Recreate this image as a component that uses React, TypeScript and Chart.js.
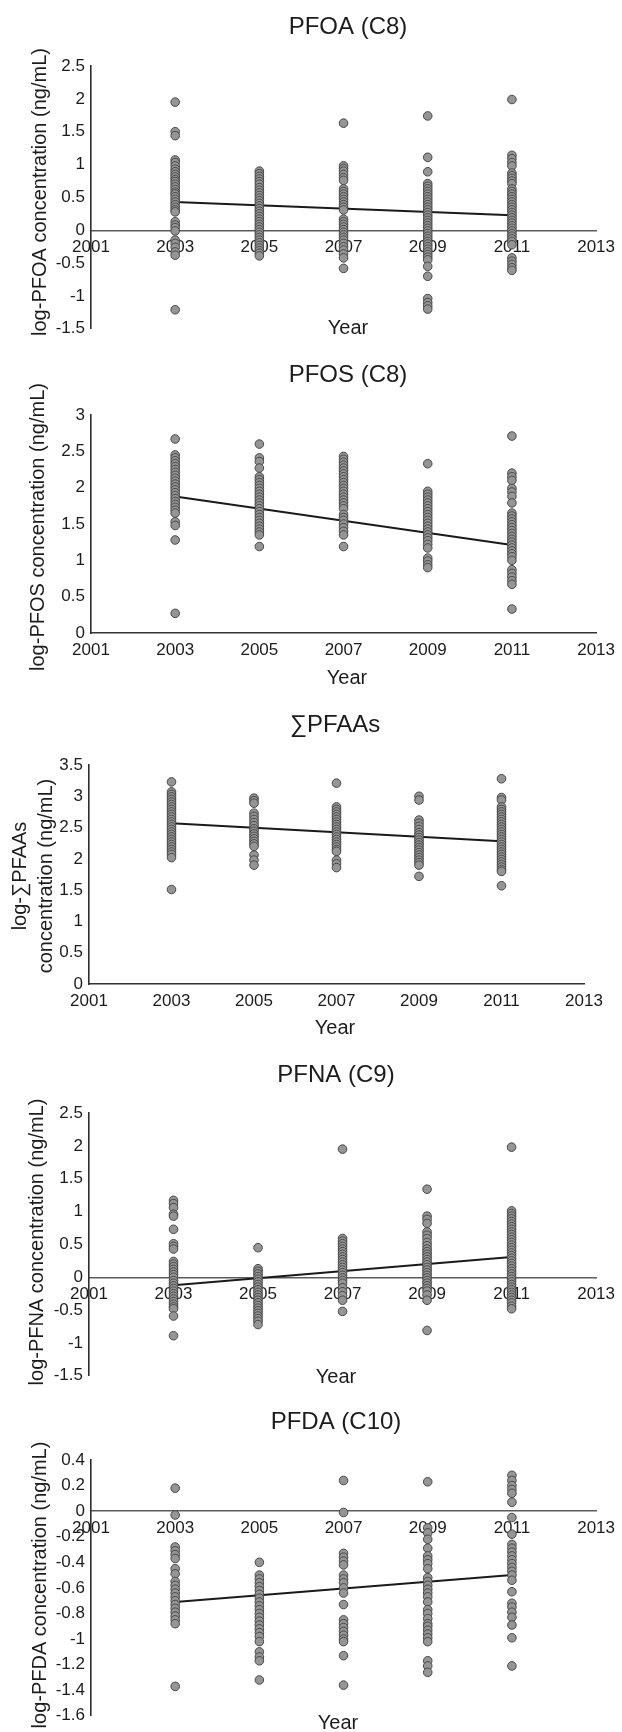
import React, { useEffect, useRef } from 'react';
import { Chart, registerables } from 'chart.js';

Chart.register(...registerables);

const FONT = "'Liberation Sans', Arial, Helvetica, sans-serif";

// ---------- shared axes ----------
const years = [2003, 2005, 2007, 2009, 2011];
const xTickYears = [2001, 2003, 2005, 2007, 2009, 2011, 2013];
const trendYears = [2003, 2011];

// ---------- PFOA (C8) ----------
const pfoa2003 = [1.95, 1.5, 1.44, 1.07, 1.03, 0.98, 0.93, 0.89, 0.85, 0.81, 0.77, 0.74, 0.7, 0.66, 0.62, 0.58, 0.55, 0.51, 0.47, 0.43, 0.39, 0.35, 0.31, 0.28, 0.13, 0.08, 0.04, -0.01, -0.15, -0.2, -0.26, -0.33, -0.38, -1.21];
const pfoa2005 = [0.9, 0.86, 0.82, 0.78, 0.74, 0.7, 0.65, 0.61, 0.57, 0.53, 0.49, 0.45, 0.41, 0.37, 0.33, 0.29, 0.25, 0.21, 0.17, 0.13, 0.09, 0.05, 0.01, -0.03, -0.07, -0.11, -0.15, -0.19, -0.23, -0.27, -0.31, -0.35, -0.39];
const pfoa2007 = [1.63, 0.98, 0.94, 0.9, 0.85, 0.8, 0.76, 0.63, 0.59, 0.55, 0.51, 0.47, 0.43, 0.39, 0.35, 0.31, 0.17, 0.13, 0.09, 0.05, 0.01, -0.03, -0.07, -0.11, -0.15, -0.2, -0.25, -0.3, -0.36, -0.42, -0.58];
const pfoa2009 = [1.74, 1.11, 0.89, 0.71, 0.67, 0.63, 0.59, 0.55, 0.51, 0.47, 0.43, 0.39, 0.35, 0.31, 0.27, 0.23, 0.19, 0.15, 0.11, 0.07, 0.03, -0.01, -0.05, -0.09, -0.13, -0.17, -0.21, -0.25, -0.29, -0.33, -0.37, -0.41, -0.45, -0.55, -0.7, -1.04, -1.1, -1.15, -1.2];
const pfoa2011 = [1.99, 1.14, 1.09, 1.03, 0.98, 0.87, 0.83, 0.79, 0.75, 0.71, 0.63, 0.59, 0.55, 0.51, 0.47, 0.43, 0.39, 0.35, 0.31, 0.27, 0.23, 0.19, 0.15, 0.11, 0.07, 0.03, -0.01, -0.05, -0.09, -0.13, -0.17, -0.22, -0.42, -0.47, -0.52, -0.57, -0.61];
const pfoaTrend = [0.43, 0.23];
const pfoaYTicks = [-1.5, -1, -0.5, 0, 0.5, 1, 1.5, 2, 2.5];

// ---------- PFOS (C8) ----------
const pfos2003 = [2.67, 2.45, 2.41, 2.37, 2.33, 2.29, 2.25, 2.21, 2.17, 2.13, 2.09, 2.05, 2.01, 1.97, 1.93, 1.89, 1.85, 1.81, 1.77, 1.73, 1.69, 1.65, 1.53, 1.48, 1.28, 0.27];
const pfos2005 = [2.6, 2.41, 2.36, 2.27, 2.15, 2.11, 2.07, 2.03, 1.99, 1.95, 1.91, 1.87, 1.83, 1.79, 1.75, 1.71, 1.67, 1.63, 1.59, 1.55, 1.51, 1.47, 1.43, 1.39, 1.35, 1.19];
const pfos2007 = [2.43, 2.39, 2.35, 2.31, 2.27, 2.23, 2.19, 2.15, 2.11, 2.07, 2.03, 1.99, 1.95, 1.91, 1.87, 1.83, 1.79, 1.75, 1.71, 1.63, 1.59, 1.55, 1.5, 1.45, 1.4, 1.35, 1.19];
const pfos2009 = [2.33, 1.95, 1.91, 1.87, 1.83, 1.79, 1.75, 1.71, 1.67, 1.63, 1.59, 1.55, 1.51, 1.47, 1.43, 1.39, 1.35, 1.31, 1.27, 1.22, 1.17, 1.03, 0.99, 0.94, 0.9];
const pfos2011 = [2.71, 2.2, 2.15, 2.1, 1.99, 1.94, 1.88, 1.79, 1.65, 1.61, 1.57, 1.53, 1.49, 1.45, 1.41, 1.37, 1.33, 1.29, 1.25, 1.21, 1.17, 1.13, 1.09, 1.05, 1.0, 0.87, 0.82, 0.77, 0.72, 0.67, 0.33];
const pfosTrend = [1.88, 1.21];
const pfosYTicks = [0, 0.5, 1, 1.5, 2, 2.5, 3];

// ---------- ∑PFAAs ----------
const pfaa2003 = [3.23, 3.07, 3.03, 2.99, 2.95, 2.91, 2.87, 2.83, 2.79, 2.75, 2.71, 2.67, 2.63, 2.59, 2.55, 2.51, 2.47, 2.43, 2.39, 2.35, 2.31, 2.27, 2.23, 2.19, 2.15, 2.11, 2.07, 2.02, 1.51];
const pfaa2005 = [2.97, 2.93, 2.89, 2.73, 2.68, 2.63, 2.58, 2.53, 2.48, 2.44, 2.4, 2.36, 2.32, 2.28, 2.24, 2.2, 2.06, 1.98, 1.9];
const pfaa2007 = [3.21, 2.83, 2.79, 2.75, 2.71, 2.67, 2.63, 2.59, 2.55, 2.51, 2.47, 2.43, 2.39, 2.35, 2.31, 2.27, 2.23, 2.19, 2.15, 2.12, 1.98, 1.92, 1.86];
const pfaa2009 = [3.0, 2.94, 2.62, 2.57, 2.52, 2.47, 2.42, 2.38, 2.34, 2.3, 2.26, 2.22, 2.18, 2.14, 2.1, 2.06, 2.02, 1.98, 1.94, 1.9, 1.72];
const pfaa2011 = [3.28, 2.98, 2.94, 2.83, 2.79, 2.75, 2.71, 2.67, 2.63, 2.59, 2.55, 2.51, 2.47, 2.43, 2.39, 2.35, 2.31, 2.27, 2.23, 2.19, 2.15, 2.11, 2.07, 2.03, 1.99, 1.95, 1.91, 1.87, 1.83, 1.8, 1.57];
const pfaaTrend = [2.57, 2.28];
const pfaaYTicks = [0, 0.5, 1, 1.5, 2, 2.5, 3, 3.5];

// ---------- PFNA (C9) ----------
const pfna2003 = [1.17, 1.12, 1.06, 0.96, 0.93, 0.73, 0.51, 0.47, 0.43, 0.24, 0.2, 0.16, 0.12, 0.08, 0.04, 0.0, -0.05, -0.09, -0.13, -0.17, -0.21, -0.25, -0.29, -0.33, -0.37, -0.41, -0.45, -0.48, -0.59, -0.89];
const pfna2005 = [0.45, 0.13, 0.09, 0.05, 0.01, -0.03, -0.07, -0.11, -0.15, -0.19, -0.23, -0.27, -0.31, -0.35, -0.39, -0.43, -0.47, -0.51, -0.55, -0.59, -0.63, -0.67, -0.72];
const pfna2007 = [1.95, 0.59, 0.55, 0.51, 0.47, 0.43, 0.39, 0.35, 0.31, 0.27, 0.23, 0.19, 0.15, 0.11, 0.07, 0.03, -0.01, -0.05, -0.09, -0.16, -0.22, -0.28, -0.35, -0.52];
const pfna2009 = [1.34, 0.93, 0.88, 0.82, 0.69, 0.64, 0.59, 0.53, 0.48, 0.43, 0.39, 0.35, 0.31, 0.27, 0.23, 0.19, 0.15, 0.11, 0.07, 0.03, -0.01, -0.05, -0.09, -0.13, -0.17, -0.21, -0.27, -0.35, -0.81];
const pfna2011 = [1.98, 1.01, 0.97, 0.93, 0.89, 0.85, 0.81, 0.77, 0.73, 0.69, 0.65, 0.61, 0.57, 0.53, 0.49, 0.45, 0.41, 0.37, 0.33, 0.29, 0.25, 0.21, 0.17, 0.13, 0.09, 0.05, 0.01, -0.03, -0.07, -0.11, -0.15, -0.19, -0.23, -0.27, -0.31, -0.35, -0.39, -0.44, -0.48];
const pfnaTrend = [-0.12, 0.31];
const pfnaYTicks = [-1.5, -1, -0.5, 0, 0.5, 1, 1.5, 2, 2.5];

// ---------- PFDA (C10) ----------
const pfda2003 = [0.18, -0.03, -0.28, -0.31, -0.34, -0.37, -0.45, -0.49, -0.55, -0.58, -0.61, -0.64, -0.67, -0.7, -0.73, -0.76, -0.79, -0.82, -0.85, -0.88, -1.37];
const pfda2005 = [-0.4, -0.5, -0.53, -0.56, -0.59, -0.62, -0.65, -0.68, -0.71, -0.74, -0.77, -0.8, -0.83, -0.86, -0.89, -0.92, -0.95, -0.98, -1.02, -1.1, -1.14, -1.17, -1.32];
const pfda2007 = [0.24, -0.01, -0.33, -0.36, -0.39, -0.42, -0.5, -0.53, -0.56, -0.6, -0.64, -0.73, -0.85, -0.88, -0.91, -0.94, -0.97, -1.0, -1.02, -1.13, -1.36];
const pfda2009 = [0.23, -0.13, -0.17, -0.22, -0.29, -0.35, -0.38, -0.41, -0.45, -0.52, -0.55, -0.58, -0.61, -0.64, -0.67, -0.71, -0.77, -0.8, -0.84, -0.88, -0.9, -0.93, -0.96, -0.99, -1.02, -1.17, -1.21, -1.26];
const pfda2011 = [0.28, 0.24, 0.2, 0.17, 0.14, 0.07, -0.05, -0.18, -0.26, -0.29, -0.32, -0.35, -0.38, -0.41, -0.44, -0.47, -0.5, -0.54, -0.63, -0.72, -0.75, -0.79, -0.83, -0.89, -0.99, -1.21];
const pfdaTrend = [-0.71, -0.5];
const pfdaYTicks = [-1.6, -1.4, -1.2, -1, -0.8, -0.6, -0.4, -0.2, 0, 0.2, 0.4];

// ---------- panel layout (positions only) ----------
type PanelCfg = {
  title: string;
  yTitle: string[];
  series: number[][];
  trend: number[];
  yTicks: number[];
  zeroAxis: boolean;
  top: number;
  height: number;
  area: { left: number; right: number; top: number; bottom: number };
  titleX: number; titleY: number;
  yearX: number; yearY: number;
  yTitleX: number[]; yTitleY: number;
};

const W = 622;

const panels: PanelCfg[] = [
  {
    title: 'PFOA (C8)', yTitle: ['log-PFOA concentration (ng/mL)'],
    series: [pfoa2003, pfoa2005, pfoa2007, pfoa2009, pfoa2011], trend: pfoaTrend, yTicks: pfoaYTicks,
    zeroAxis: true, top: 0, height: 345,
    area: { left: 91, right: 598, top: 66, bottom: 317 },
    titleX: 348, titleY: 27, yearX: 348, yearY: 328, yTitleX: [40], yTitleY: 192,
  },
  {
    title: 'PFOS (C8)', yTitle: ['log-PFOS concentration (ng/mL)'],
    series: [pfos2003, pfos2005, pfos2007, pfos2009, pfos2011], trend: pfosTrend, yTicks: pfosYTicks,
    zeroAxis: false, top: 345, height: 350,
    area: { left: 91, right: 605, top: 70, bottom: 288 },
    titleX: 348, titleY: 30, yearX: 347, yearY: 333, yTitleX: [38], yTitleY: 182,
  },
  {
    title: '\u2211PFAAs', yTitle: ['log-\u2211PFAAs', 'concentration (ng/mL)'],
    series: [pfaa2003, pfaa2005, pfaa2007, pfaa2009, pfaa2011], trend: pfaaTrend, yTicks: pfaaYTicks,
    zeroAxis: false, top: 695, height: 350,
    area: { left: 89, right: 584, top: 70, bottom: 289 },
    titleX: 335, titleY: 30, yearX: 335, yearY: 333, yTitleX: [20, 46], yTitleY: 181,
  },
  {
    title: 'PFNA (C9)', yTitle: ['log-PFNA concentration (ng/mL)'],
    series: [pfna2003, pfna2005, pfna2007, pfna2009, pfna2011], trend: pfnaTrend, yTicks: pfnaYTicks,
    zeroAxis: true, top: 1045, height: 347,
    area: { left: 89, right: 601, top: 68, bottom: 320 },
    titleX: 336, titleY: 30, yearX: 336, yearY: 332, yTitleX: [37], yTitleY: 197,
  },
  {
    title: 'PFDA (C10)', yTitle: ['log-PFDA concentration (ng/mL)'],
    series: [pfda2003, pfda2005, pfda2007, pfda2009, pfda2011], trend: pfdaTrend, yTicks: pfdaYTicks,
    zeroAxis: true, top: 1392, height: 340,
    area: { left: 91, right: 602, top: 68, bottom: 320 },
    titleX: 336, titleY: 30, yearX: 338, yearY: 331, yTitleX: [40], yTitleY: 193,
  },
];

function Panel({ cfg }: { cfg: PanelCfg }) {
  const ref = useRef<HTMLCanvasElement | null>(null);

  useEffect(() => {
    const canvas = ref.current;
    if (!canvas) return;

    const points = years.flatMap((yr, i) => cfg.series[i].map((v) => ({ x: yr, y: v })));
    const trendPts = trendYears.map((yr, i) => ({ x: yr, y: cfg.trend[i] }));

    const textPlugin = {
      id: 'panelText',
      afterDraw(chart: any) {
        const ctx = chart.ctx as CanvasRenderingContext2D;
        ctx.save();
        ctx.fillStyle = '#1c1c1c';
        ctx.textAlign = 'center';
        ctx.textBaseline = 'middle';
        ctx.font = `24px ${FONT}`;
        ctx.fillText(cfg.title, cfg.titleX, cfg.titleY);
        ctx.font = `20px ${FONT}`;
        ctx.fillText('Year', cfg.yearX, cfg.yearY);
        cfg.yTitle.forEach((line, i) => {
          ctx.save();
          ctx.translate(cfg.yTitleX[i], cfg.yTitleY);
          ctx.rotate(-Math.PI / 2);
          ctx.fillText(line, 0, 0);
          ctx.restore();
        });
        ctx.restore();
      },
    };

    const chart = new Chart(canvas, {
      type: 'scatter',
      data: {
        datasets: [
          {
            type: 'scatter',
            data: points,
            backgroundColor: '#959595',
            borderColor: '#474747',
            borderWidth: 1,
            pointRadius: 4.3,
            order: 0,
          } as any,
          {
            type: 'line',
            data: trendPts,
            borderColor: '#1a1a1a',
            borderWidth: 2,
            pointRadius: 0,
            fill: false,
            showLine: true,
            order: 1,
          } as any,
        ],
      },
      options: {
        responsive: false,
        animation: false,
        devicePixelRatio: 1,
        layout: {
          padding: { left: 0, top: cfg.area.top, right: W - cfg.area.right, bottom: 0 },
        },
        plugins: {
          legend: { display: false },
          tooltip: { enabled: false },
          title: { display: false },
        },
        scales: {
          x: {
            type: 'linear',
            min: 2001,
            max: 2013,
            position: cfg.zeroAxis ? ({ y: 0 } as any) : 'bottom',
            grid: { display: false, drawTicks: false },
            border: { display: true, color: cfg.zeroAxis ? '#5c5c5c' : '#333', width: cfg.zeroAxis ? 1.4 : 1.6 },
            ticks: {
              color: '#1c1c1c',
              font: { family: FONT, size: 17 },
              padding: 7,
              maxRotation: 0,
              autoSkip: false,
              callback: (v: any) => String(v),
            },
            afterBuildTicks: (scale: any) => {
              scale.ticks = xTickYears.map((v) => ({ value: v }));
            },
            afterFit: (scale: any) => {
              scale.height = cfg.height - cfg.area.bottom;
            },
          },
          y: {
            type: 'linear',
            min: cfg.yTicks[0],
            max: cfg.yTicks[cfg.yTicks.length - 1],
            grid: { display: false, drawTicks: false },
            border: { display: true, color: '#2e2e2e', width: 1.6 },
            ticks: {
              color: '#1c1c1c',
              font: { family: FONT, size: 17 },
              padding: 6,
              autoSkip: false,
              callback: (v: any) => String(v),
            },
            afterBuildTicks: (scale: any) => {
              scale.ticks = cfg.yTicks.map((v) => ({ value: v }));
            },
            afterFit: (scale: any) => {
              scale.width = cfg.area.left;
            },
          },
        },
      },
      plugins: [textPlugin],
    });

    return () => chart.destroy();
  }, [cfg]);

  return (
    <canvas
      ref={ref}
      width={W}
      height={cfg.height}
      style={{ position: 'absolute', left: 0, top: cfg.top, width: W, height: cfg.height, display: 'block' }}
    />
  );
}

export default function App() {
  return (
    <div style={{ position: 'absolute', left: 0, top: 0, width: W, height: 1732, background: '#ffffff', overflow: 'hidden' }}>
      {panels.map((p) => (
        <Panel key={p.title} cfg={p} />
      ))}
    </div>
  );
}
